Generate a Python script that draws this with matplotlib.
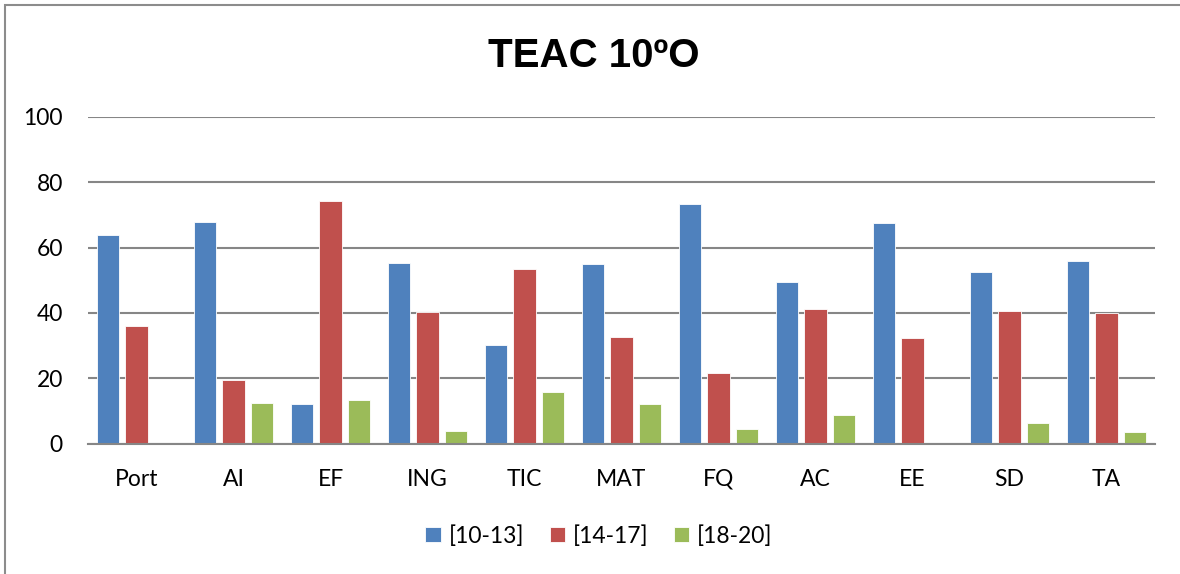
import numpy as np
import matplotlib
matplotlib.use("Agg")
import matplotlib.pyplot as plt
from matplotlib.patches import Rectangle

plt.rcParams['font.family'] = ['Lato', 'DejaVu Sans']

subjects = ['Port', 'AI', 'EF', 'ING', 'TIC', 'MAT', 'FQ', 'AC', 'EE', 'SD', 'TA']
series_names = ['[10-13]', '[14-17]', '[18-20]']
low  = [63.7, 67.8, 12.0, 55.4, 30.1, 55.0, 73.4, 49.6, 67.4, 52.6, 56.0]
mid  = [36.1, 19.5, 74.2, 40.3, 53.5, 32.6, 21.7, 41.1, 32.2, 40.7, 40.0]
high = [0.0, 12.3, 13.4, 4.0, 15.8, 12.0, 4.5, 8.8, 0.0, 6.2, 3.5]
yticks = [0, 20, 40, 60, 80, 100]

colors = ['#4F81BD', '#C0504D', '#9BBB59']

W, H = 1180, 574
fig = plt.figure(figsize=(W / 100, H / 100), dpi=100)
ax = fig.add_axes([88 / W, 1 - 443.7 / H, (1155 - 88) / W, (443.7 - 116.7) / H])

x = np.arange(len(subjects))
bw = 0.227
pitch = 0.289
for i, (vals, name) in enumerate(zip([low, mid, high], series_names)):
    ax.bar(x + (i - 1) * pitch, vals, width=bw, color=colors[i], label=name,
           edgecolor='white', linewidth=0.6, zorder=3)

ax.set_xlim(-0.5, len(subjects) - 0.5)
ax.set_ylim(0, 100)
ax.set_yticks(yticks)
ax.set_xticks(x)
ax.set_xticklabels(subjects)
ax.tick_params(axis='both', length=0, labelsize=16.5, colors='black')
ax.tick_params(axis='y', pad=18)
ax.tick_params(axis='x', pad=18)
ax.grid(axis='y', color='#868686', linewidth=1.5, zorder=1)
for s in ['top', 'right', 'left']:
    ax.spines[s].set_visible(False)
ax.spines['bottom'].set_color('#868686')
ax.spines['bottom'].set_linewidth(1.5)
ax.spines['bottom'].set_zorder(4)

fig.text(594 / W, 1 - 56 / H, 'TEAC 10ºO', ha='center', va='center',
         fontsize=29, fontweight='bold', family=['Liberation Sans', 'DejaVu Sans'])

fig.legend(loc='center', bbox_to_anchor=(599 / W, 1 - 536 / H), ncol=3,
           frameon=False, fontsize=16.5, handlelength=0.66, handleheight=0.66,
           handletextpad=0.36, columnspacing=1.1)

# chart border (only top and left visible in the crop)
fig.patches.append(Rectangle((4.5 / W, -0.1), 1.2, 1 - 4.5 / H + 0.1,
                             transform=fig.transFigure, fill=False,
                             edgecolor='#8c8c8c', linewidth=1.5))

fig.savefig('out.png', dpi=100)
